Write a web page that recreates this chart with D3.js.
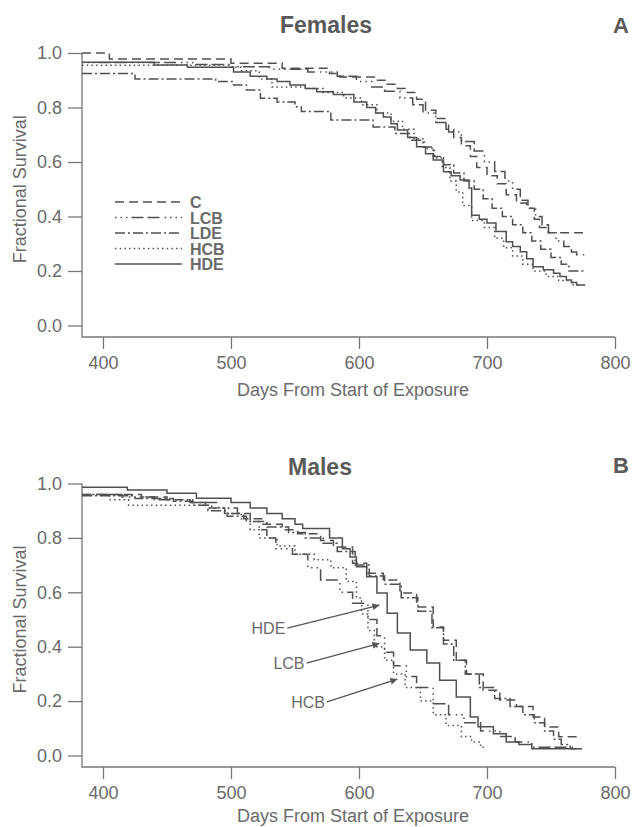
<!DOCTYPE html>
<html>
<head>
<meta charset="utf-8">
<script src="https://cdn.jsdelivr.net/npm/d3@7"></script>
<style>
  body { margin: 0; background: #fff; }
  svg { display: block; font-family: "Liberation Sans", Arial, sans-serif; }
</style>
</head>
<body>
<script>
//survival curves: [day, fractional survival], step after each point
var femaleC = [[383.6,1.0],[405,0.978],[500,0.962],[540,0.944],[577,0.925],[585,0.912],[612,0.90],[622,0.885],[630,0.87],[636,0.855],[645,0.83],[652,0.79],[660,0.76],[668,0.72],[674,0.69],[680,0.66],[687,0.62],[692,0.58],[700,0.55],[708,0.52],[715,0.48],[723,0.45],[731,0.43],[737,0.39],[741,0.36],[748,0.34],[775,0.34]];
var femaleLCB = [[383.6,0.965],[470,0.958],[500,0.95],[530,0.94],[560,0.93],[583,0.915],[598,0.895],[610,0.875],[620,0.86],[632,0.835],[642,0.81],[650,0.78],[660,0.745],[670,0.71],[680,0.675],[690,0.64],[698,0.60],[706,0.565],[714,0.53],[720,0.50],[726,0.46],[732,0.43],[738,0.40],[743,0.37],[748,0.34],[754,0.31],[760,0.29],[766,0.27],[770,0.26],[776,0.26]];
var femaleLDE = [[383.6,0.925],[425,0.905],[488,0.895],[502,0.883],[512,0.864],[523,0.834],[536,0.82],[550,0.803],[555,0.785],[578,0.754],[611,0.728],[628,0.705],[640,0.68],[650,0.655],[658,0.62],[666,0.59],[674,0.56],[682,0.53],[690,0.50],[697,0.465],[704,0.43],[712,0.40],[720,0.37],[728,0.34],[735,0.31],[742,0.28],[750,0.25],[758,0.225],[764,0.20],[776,0.20]];
var femaleHCB = [[383.6,0.955],[500,0.948],[508,0.935],[522,0.905],[532,0.875],[560,0.87],[572,0.855],[588,0.835],[602,0.81],[614,0.78],[625,0.75],[634,0.72],[643,0.685],[651,0.65],[659,0.615],[665,0.58],[671,0.53],[676,0.49],[681,0.44],[688,0.385],[698,0.36],[706,0.32],[713,0.285],[720,0.255],[728,0.225],[736,0.20],[746,0.18],[756,0.165],[766,0.15],[772,0.15]];
var femaleHDE = [[383.6,0.966],[440,0.956],[466,0.948],[502,0.93],[515,0.915],[528,0.905],[536,0.895],[546,0.883],[558,0.87],[567,0.858],[580,0.848],[596,0.82],[606,0.80],[613,0.78],[619,0.765],[625,0.74],[630,0.717],[638,0.69],[645,0.656],[652,0.63],[658,0.607],[666,0.564],[672,0.55],[679,0.534],[686,0.505],[688,0.405],[694,0.39],[700,0.376],[707,0.345],[715,0.307],[720,0.29],[726,0.271],[731,0.245],[736,0.216],[744,0.205],[752,0.192],[757,0.18],[762,0.167],[766,0.158],[770,0.149],[776,0.145]];

var maleC = [[383.6,0.96],[430,0.95],[450,0.94],[468,0.93],[480,0.91],[495,0.89],[510,0.87],[525,0.85],[540,0.83],[552,0.815],[570,0.79],[580,0.767],[595,0.707],[606,0.67],[619,0.645],[632,0.597],[645,0.546],[658,0.472],[666,0.424],[676,0.35],[684,0.30],[697,0.24],[710,0.204],[723,0.18],[736,0.142],[745,0.105],[756,0.069],[774,0.069]];
var maleLCB = [[383.6,0.96],[415,0.95],[440,0.94],[470,0.93],[490,0.91],[505,0.89],[515,0.86],[522,0.83],[528,0.80],[535,0.76],[548,0.74],[560,0.69],[570,0.645],[585,0.60],[595,0.56],[607,0.50],[614,0.44],[620,0.38],[627,0.33],[637,0.29],[645,0.25],[658,0.19],[670,0.15],[682,0.12],[695,0.09],[710,0.07],[722,0.05],[735,0.03],[770,0.03]];
var maleLDE = [[383.6,0.955],[425,0.945],[455,0.935],[470,0.92],[482,0.90],[497,0.88],[512,0.86],[528,0.84],[545,0.82],[558,0.80],[572,0.78],[583,0.75],[597,0.70],[608,0.66],[620,0.63],[633,0.58],[646,0.53],[657,0.47],[666,0.41],[674,0.35],[683,0.30],[694,0.25],[706,0.21],[718,0.18],[728,0.15],[737,0.12],[745,0.09],[752,0.06],[758,0.04],[765,0.025],[774,0.025]];
var maleHCB = [[383.6,0.96],[405,0.94],[420,0.92],[485,0.91],[498,0.89],[508,0.87],[515,0.83],[522,0.80],[536,0.77],[550,0.74],[565,0.72],[578,0.69],[590,0.64],[598,0.58],[602,0.52],[607,0.46],[612,0.40],[620,0.35],[627,0.30],[636,0.25],[648,0.20],[658,0.15],[668,0.11],[680,0.07],[688,0.05],[695,0.03],[700,0.03]];
var maleHDE = [[383.6,0.986],[419,0.976],[450,0.964],[473,0.946],[500,0.93],[515,0.91],[528,0.89],[540,0.87],[550,0.85],[556,0.835],[577,0.80],[587,0.76],[593,0.73],[598,0.694],[606,0.657],[614,0.597],[622,0.523],[630,0.45],[640,0.388],[653,0.34],[663,0.277],[676,0.215],[687,0.142],[693,0.106],[705,0.08],[715,0.05],[725,0.04],[735,0.025],[774,0.025]];

//groups, tick values and annotations
var groups = ["C", "LCB", "LDE", "HCB", "HDE"];
var dayTicks = [400, 500, 600, 700, 800];
var survTicks = [0.0, 0.2, 0.4, 0.6, 0.8, 1.0];
var maleNotes = [
    {label: "HDE", tail: [544, 0.468], tip: [616, 0.553]},
    {label: "LCB", tail: [559, 0.340], tip: [616, 0.412]},
    {label: "HCB", tail: [575, 0.197], tip: [630, 0.281]}
];

//line style for each group
var dashes = {
    C: "9,5",
    LCB: "1.5,4,1.5,4,1.5,4,12,4,12,5",
    LDE: "10,3,2,3",
    HCB: "1.5,3.2",
    HDE: null
};

window.onload = drawFigure;

function drawFigure(){

    var width = 635,
        height = 827;

    var svg = d3.select("body")
        .append("svg")
        .attr("width", width)
        .attr("height", height);

    //arrow head for the annotations
    svg.append("defs").append("marker")
        .attr("id", "arrow")
        .attr("viewBox", "0 0 10 10")
        .attr("refX", 10)
        .attr("refY", 5)
        .attr("markerWidth", 9)
        .attr("markerHeight", 7)
        .attr("markerUnits", "userSpaceOnUse")
        .attr("orient", "auto")
        .append("path")
        .attr("d", "M0,0L10,5L0,10Z")
        .attr("fill", "#555");

    //panel A
    drawPanel(svg, {
        title: "Females", titleX: 326, titleY: 33, letter: "A", letterY: 33,
        y0: 325.5, y1: 53, axisY: 337, xTitleY: 396,
        series: {C: femaleC, LCB: femaleLCB, LDE: femaleLDE, HCB: femaleHCB, HDE: femaleHDE},
        legend: true, notes: []
    });

    //panel B
    drawPanel(svg, {
        title: "Males", titleX: 320, titleY: 475, letter: "B", letterY: 473,
        y0: 755.5, y1: 483.5, axisY: 767, xTitleY: 822,
        series: {C: maleC, LCB: maleLCB, LDE: maleLDE, HCB: maleHCB, HDE: maleHDE},
        legend: false, notes: maleNotes
    });
}

function drawPanel(svg, p){

    var x = d3.scaleLinear()
        .domain([383.6, 800])
        .range([82, 615]);

    var y = d3.scaleLinear()
        .domain([0, 1])
        .range([p.y0, p.y1]);

    var g = svg.append("g");

    //y axis ticks and labels
    var yAxis = d3.axisLeft(y)
        .tickValues(survTicks)
        .tickSize(14)
        .tickPadding(6)
        .tickFormat(d3.format(".1f"));

    g.append("g")
        .attr("transform", "translate(" + x.range()[0] + ",0)")
        .call(yAxis)
        .call(styleAxis);

    //x axis ticks and labels
    var xAxis = d3.axisBottom(x)
        .tickValues(dayTicks)
        .tickSize(12)
        .tickPadding(7);

    g.append("g")
        .attr("transform", "translate(0," + p.axisY + ")")
        .call(xAxis)
        .call(styleAxis);

    //L shaped frame
    g.append("path")
        .attr("d", "M" + x.range()[0] + "," + y(1) + "V" + p.axisY + "H" + x(800))
        .attr("fill", "none")
        .attr("stroke", "#777")
        .attr("stroke-width", 1.3);

    //survival step curves
    var line = d3.line()
        .x(function(d){ return x(d[0]); })
        .y(function(d){ return y(d[1]); })
        .curve(d3.curveStepAfter);

    groups.forEach(function(k){
        g.append("path")
            .datum(p.series[k])
            .attr("class", "curve " + k)
            .attr("d", line)
            .attr("fill", "none")
            .attr("stroke", "#505050")
            .attr("stroke-width", 1.5)
            .attr("stroke-dasharray", dashes[k]);
    });

    //legend
    if (p.legend){
        var leg = g.append("g").attr("transform", "translate(115,202)");
        groups.forEach(function(k, i){
            leg.append("line")
                .attr("x1", 0).attr("x2", 67)
                .attr("y1", i * 15.5).attr("y2", i * 15.5)
                .attr("stroke", "#505050")
                .attr("stroke-width", 1.5)
                .attr("stroke-dasharray", dashes[k]);
            leg.append("text")
                .attr("x", 75)
                .attr("y", i * 15.5 + 6)
                .attr("font-size", 16)
                .attr("font-weight", "bold")
                .attr("fill", "#6a6a6a")
                .text(k);
        });
    }

    //labelled arrows
    p.notes.forEach(function(n){
        g.append("line")
            .attr("x1", x(n.tail[0])).attr("y1", y(n.tail[1]))
            .attr("x2", x(n.tip[0])).attr("y2", y(n.tip[1]))
            .attr("stroke", "#555")
            .attr("stroke-width", 1.3)
            .attr("marker-end", "url(#arrow)");
        g.append("text")
            .attr("x", x(n.tail[0]) - 2)
            .attr("y", y(n.tail[1]) + 6)
            .attr("text-anchor", "end")
            .attr("font-size", 16)
            .attr("fill", "#6a6a6a")
            .text(n.label);
    });

    //titles
    g.append("text")
        .attr("x", p.titleX)
        .attr("y", p.titleY)
        .attr("text-anchor", "middle")
        .attr("font-size", 23)
        .attr("font-weight", "bold")
        .attr("fill", "#5a5a5a")
        .text(p.title);

    g.append("text")
        .attr("x", 621)
        .attr("y", p.letterY)
        .attr("text-anchor", "middle")
        .attr("font-size", 22)
        .attr("font-weight", "bold")
        .attr("fill", "#5a5a5a")
        .text(p.letter);

    g.append("text")
        .attr("x", 353)
        .attr("y", p.xTitleY)
        .attr("text-anchor", "middle")
        .attr("font-size", 18)
        .attr("fill", "#6a6a6a")
        .text("Days From Start of Exposure");

    g.append("text")
        .attr("transform", "translate(26," + y(0.5) + ") rotate(-90)")
        .attr("text-anchor", "middle")
        .attr("font-size", 18)
        .attr("fill", "#6a6a6a")
        .text("Fractional Survival");
}

function styleAxis(sel){
    sel.select(".domain").remove();
    sel.selectAll(".tick line")
        .attr("stroke", "#777")
        .attr("stroke-width", 1.3);
    sel.selectAll(".tick text")
        .attr("fill", "#6a6a6a")
        .attr("font-size", 18)
        .attr("font-family", "'Liberation Sans', Arial, sans-serif");
}
</script>
</body>
</html>
